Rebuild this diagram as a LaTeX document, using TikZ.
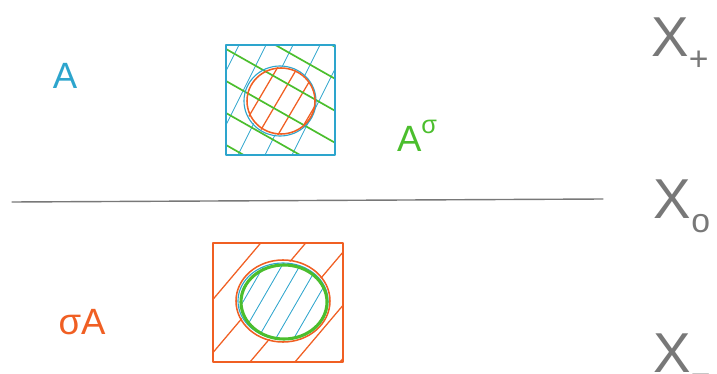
\documentclass[tikz,border=0pt]{standalone}
\usepackage{fontspec}
\setmainfont{Liberation Sans}
\definecolor{penblue}{RGB}{45,165,205}
\definecolor{pengreen}{RGB}{75,190,45}
\definecolor{penorange}{RGB}{240,95,35}
\definecolor{pengray}{RGB}{120,120,120}
\begin{document}
\begin{tikzpicture}[
    x=0.025cm, y=-0.025cm,
    pen/.style={line width=0.8pt, line cap=round, line join=round},
    hatch/.style={pen, line width=0.6pt},
    lab/.style={font=\fontsize{26}{26}\selectfont},
    xlab/.style={font=\fontsize{40}{40}\selectfont, text=pengray}
]
    \useasboundingbox (0,0) rectangle (717,374);
    \clip (0,0) rectangle (717,374);

    % top square
    \begin{scope}[even odd rule]
        \clip (226,45) rectangle (335,155) (280,101) ellipse [x radius=35, y radius=34];
        \foreach \i in {185,212,...,370} \draw[hatch, penblue] (\i,45) -- ++(-60,120);
    \end{scope}
    \begin{scope}
        \clip (280,101) ellipse [x radius=35, y radius=34];
        \foreach \i in {262,282,...,350} \draw[hatch, penorange, line width=0.9pt] (\i,60) -- ++(-50,85);
    \end{scope}
    \begin{scope}
        \clip (226,45) rectangle (335,155);
        \foreach \j in {-15,17,...,150} \draw[hatch, pengreen, line width=1.2pt] (226,\j) -- ++(120,68);
    \end{scope}
    \draw[pen, penblue] (280,101) ellipse [x radius=36, y radius=35];
    \draw[pen, penorange, line width=1.1pt] (281,101) ellipse [x radius=34, y radius=33];
    \draw[pen, penblue] (226,45) rectangle (335,155);

    % bottom square
    \begin{scope}[even odd rule]
        \clip (213,243) rectangle (343,362) (283,301) ellipse [x radius=46, y radius=40];
        \foreach \i in {160,205,...,420} \draw[hatch, penorange, line width=0.9pt] (\i,362) -- ++(110,-130);
    \end{scope}
    \begin{scope}
        \clip (283,301) ellipse [x radius=44, y radius=38];
        \foreach \i in {200,218,...,350} \draw[hatch, penblue] (\i,345) -- ++(55,-95);
    \end{scope}
    \draw[pen, penorange, line width=1.1pt] (283,301) ellipse [x radius=47, y radius=41];
    \draw[pen, penblue] (283,301) ellipse [x radius=45, y radius=38];
    \draw[pen, pengreen, line width=2.2pt] (284,302) ellipse [x radius=43, y radius=37];
    \draw[pen, penorange, line width=1.1pt] (213,243) rectangle (343,362);

    % separating line
    \draw[pen, pengray, line width=1pt] (12,202) -- (603,199);

    % labels
    \node[lab, text=penblue] (labA) at (65,76) {A};
    \node[lab, text=pengreen] (labAs) at (417,136) {A\raisebox{0.5em}{\fontsize{18}{18}\selectfont σ}};
    \node[lab, text=penorange] (labsA) at (82,322) {σA};
    \node[xlab] (xplus) at (680,44) {X\raisebox{-0.25em}{\fontsize{24}{24}\selectfont +}};
    \node[xlab] (xzero) at (682,206) {X\raisebox{-0.25em}{\fontsize{24}{24}\selectfont o}};
    \node[xlab] (xminus) at (682,360) {X\raisebox{-0.25em}{\fontsize{24}{24}\selectfont −}};
\end{tikzpicture}
\end{document}
